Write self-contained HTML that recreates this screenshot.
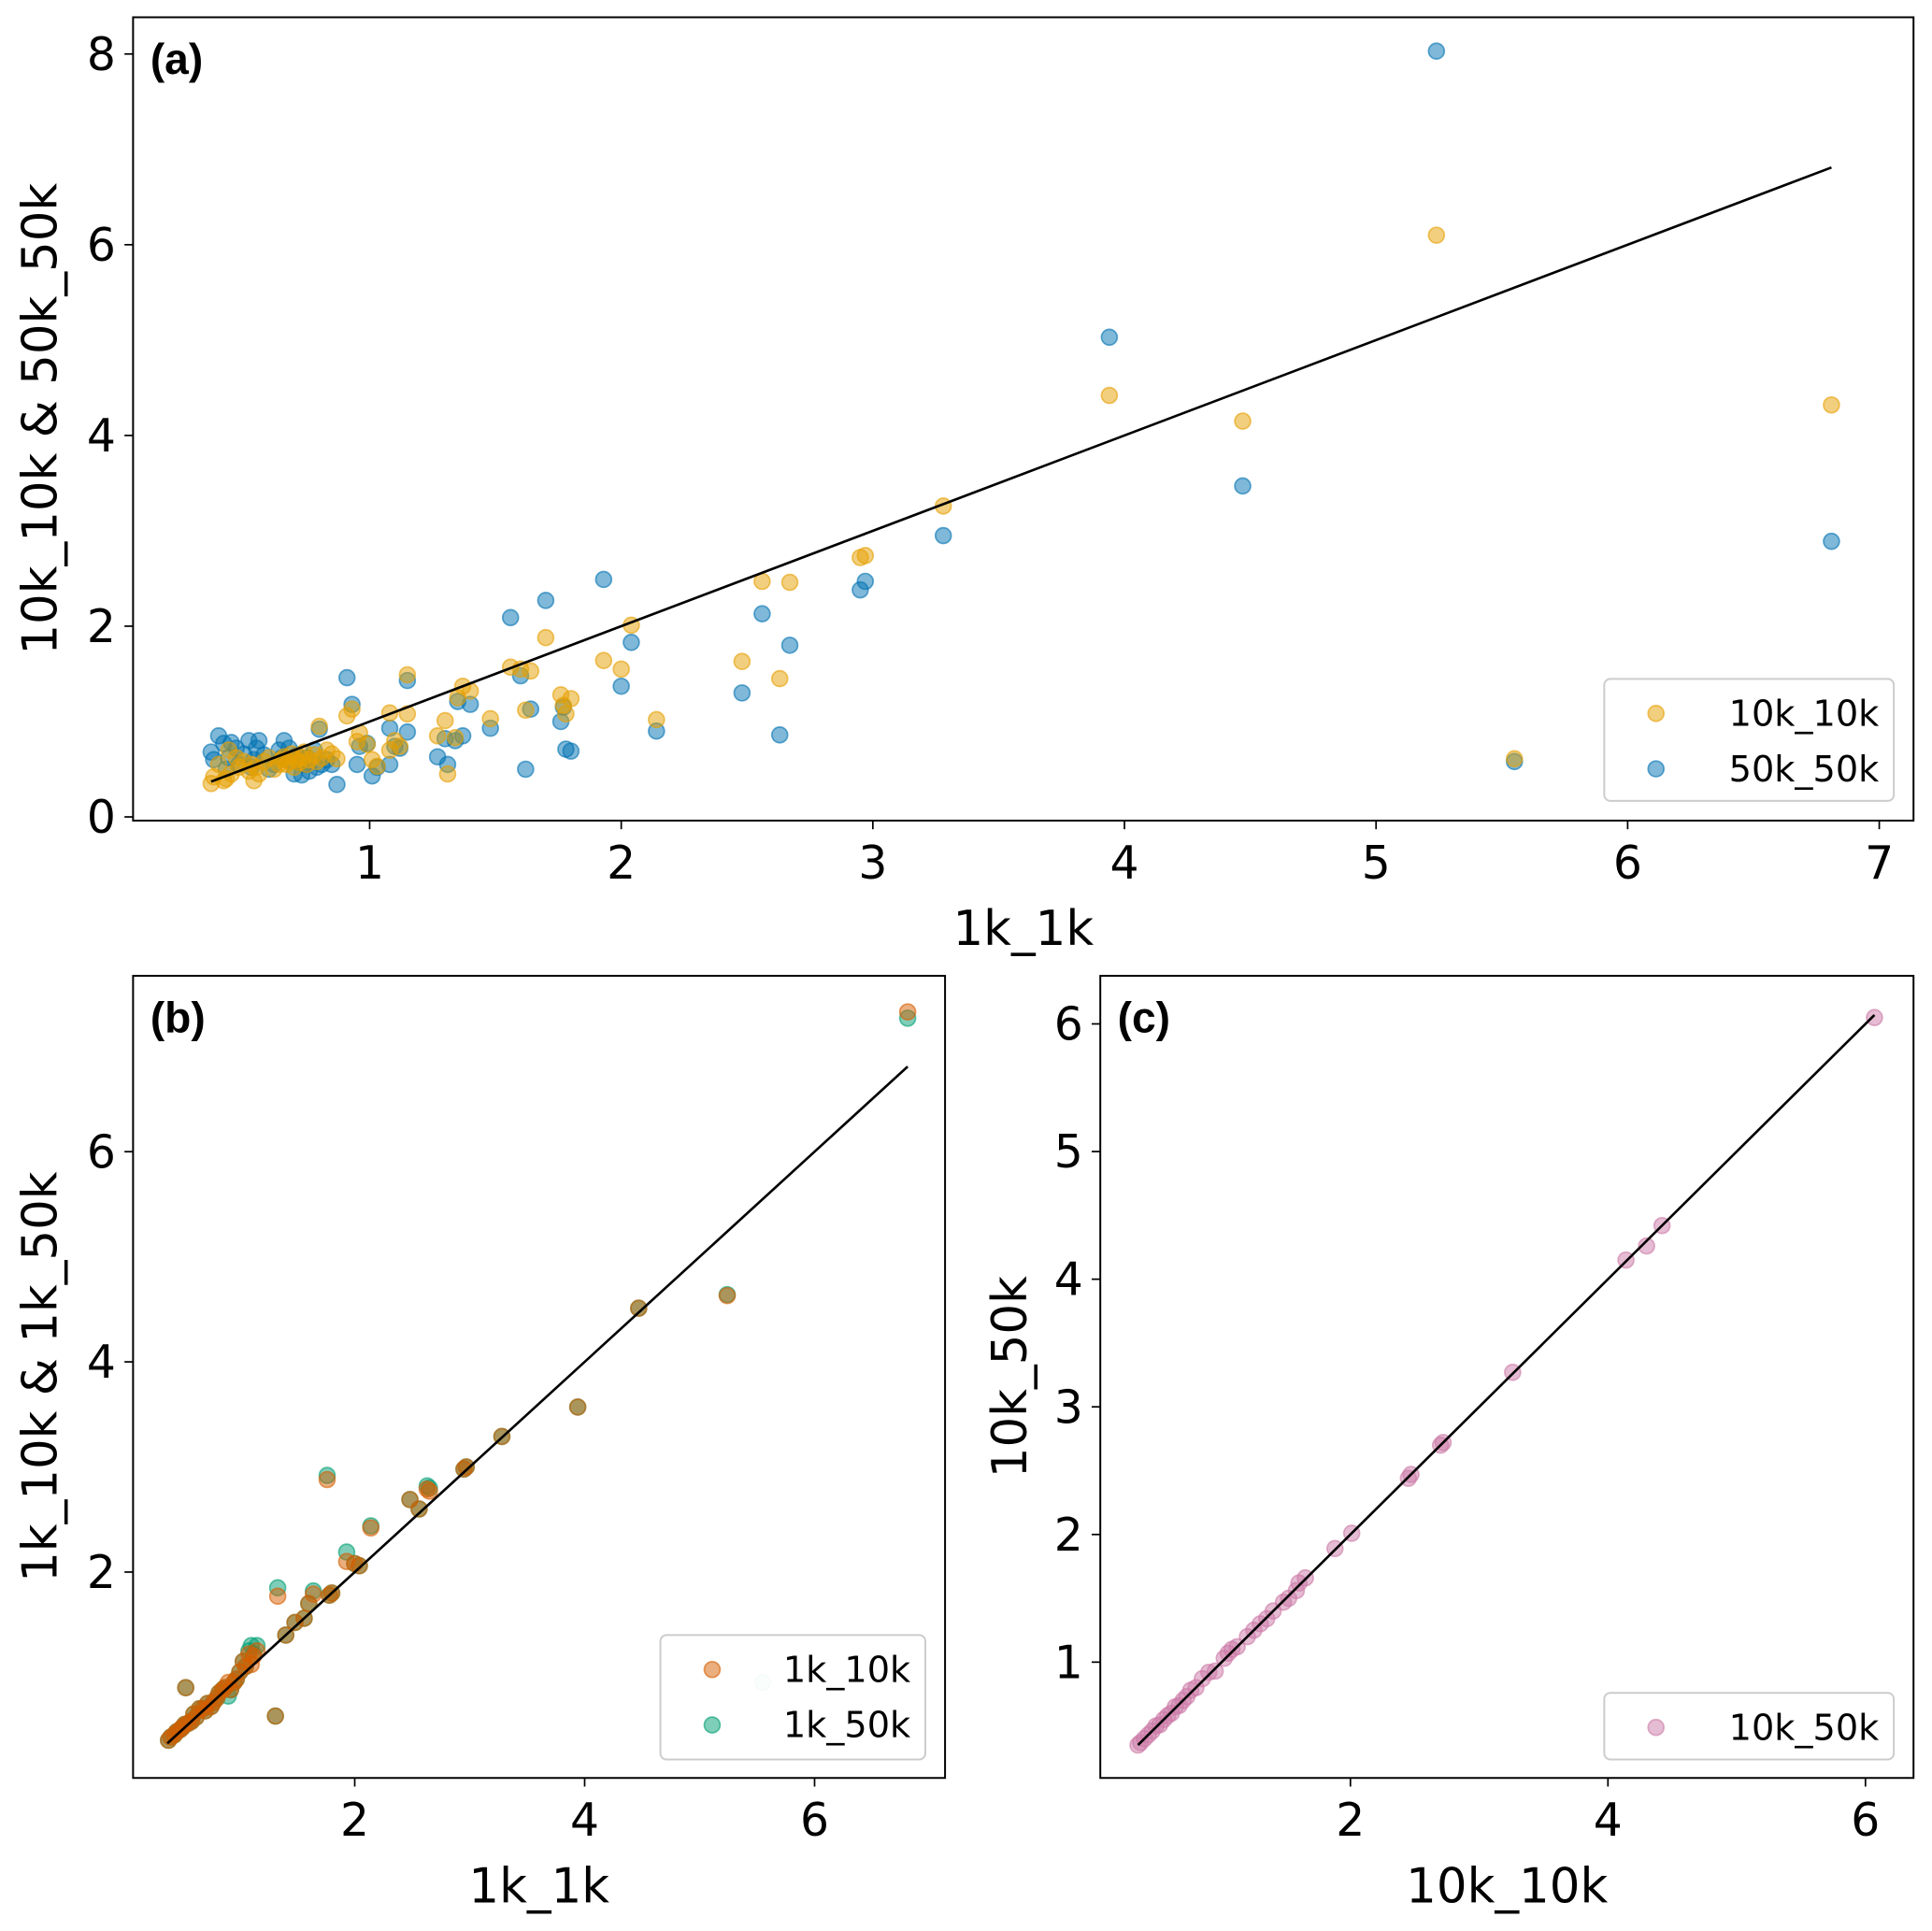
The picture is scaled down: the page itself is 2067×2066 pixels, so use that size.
<!DOCTYPE html>
<html><head><meta charset="utf-8"><style>
html,body{margin:0;padding:0;background:#fff;}
svg{display:block;font-family:"DejaVu Sans","Liberation Sans",sans-serif;}
</style></head><body>
<svg id="fig" width="2067" height="2066" viewBox="0 0 1568 1567.2" xmlns="http://www.w3.org/2000/svg">
<rect width="1568" height="1568" fill="#fff"/>
</svg>
<script>
// ---- Panel (a) data ----
const xA = [6.81,5.55,5.24,4.47,3.94,3.28,2.97,2.95,2.67,2.63,2.56,2.48,2.14,2.04,2.00,1.93,1.80,1.78,1.77,1.76,1.70,1.64,1.62,1.60,1.56,1.48,1.40,1.37,1.35,1.34,1.31,1.30,1.27,1.15,1.15,1.12,1.10,1.08,1.08,1.03,1.01,0.99,0.96,0.95,0.93,0.91,0.87,0.85,
0.83,0.81,0.80,0.79,0.78,0.76,0.75,0.74,0.73,0.72,0.71,0.70,0.69,0.68,0.67,0.66,0.65,0.64,0.62,0.60,0.58,0.56,0.55,0.54,0.53,0.52,0.50,0.48,0.47,0.45,0.44,0.43,0.42,0.40,0.38,0.37];
const y10k = [4.32,0.61,6.10,4.15,4.42,3.26,2.74,2.72,2.46,1.45,2.47,1.63,1.02,2.01,1.55,1.64,1.24,1.08,1.17,1.28,1.88,1.53,1.12,1.55,1.57,1.03,1.32,1.37,1.25,0.83,0.45,1.01,0.85,1.49,1.08,0.74,0.80,1.09,0.70,0.53,0.60,0.76,0.88,0.79,1.13,1.06,0.61,0.66,
0.70,0.62,0.95,0.58,0.65,0.60,0.55,0.68,0.62,0.57,0.60,0.52,0.66,0.58,0.55,0.63,0.60,0.55,0.50,0.62,0.58,0.45,0.52,0.38,0.55,0.48,0.58,0.52,0.62,0.45,0.70,0.40,0.38,0.55,0.42,0.35];
const y50k = [2.89,0.58,8.03,3.47,5.03,2.95,2.47,2.38,1.80,0.86,2.13,1.30,0.90,1.83,1.37,2.49,0.69,0.71,1.15,1.00,2.27,1.13,0.50,1.48,2.09,0.93,1.18,0.85,1.21,0.80,0.55,0.82,0.63,1.43,0.89,0.72,0.74,0.93,0.55,0.52,0.43,0.77,0.74,0.55,1.18,1.46,0.34,0.55,
0.60,0.55,0.92,0.52,0.70,0.48,0.62,0.55,0.44,0.60,0.65,0.45,0.58,0.72,0.60,0.80,0.62,0.70,0.55,0.50,0.65,0.80,0.72,0.60,0.52,0.80,0.66,0.55,0.72,0.78,0.62,0.50,0.77,0.85,0.60,0.68];
// ---- Panel (b) data ----
const xB = [6.81,5.24,4.47,3.94,3.28,2.97,2.95,2.63,2.65,2.56,2.48,2.14,2.04,2.00,1.93,1.76,1.80,1.78,1.64,1.60,1.56,1.48,1.40,1.33,1.31,1.15,1.12,1.10,1.08,1.05,1.03,1.00,0.97,0.95,0.92,0.90,0.87,0.85,0.82,0.80,0.77,0.75,0.72,0.70,0.68,0.65,0.62,0.60,0.58,0.55,0.53,0.52,0.50,0.48,0.45,0.43,0.40,0.38,5.55];
const y1k10k = [7.33,4.63,4.51,3.57,3.29,3.00,2.98,2.79,2.77,2.60,2.69,2.42,2.06,2.08,2.10,2.88,1.80,1.78,1.79,1.70,1.56,1.52,1.40,1.77,0.63,1.25,1.20,1.12,1.22,1.10,1.15,1.05,0.98,0.95,0.88,0.95,0.90,0.88,0.85,0.80,0.76,0.72,0.75,0.68,0.70,0.70,0.62,0.65,0.58,0.56,0.90,0.55,0.52,0.50,0.48,0.45,0.43,0.40,null];
const y1k50k = [7.27,4.64,4.51,3.57,3.29,3.00,2.98,2.82,2.80,2.60,2.69,2.44,2.06,2.08,2.19,2.92,1.80,1.78,1.82,1.70,1.56,1.52,1.40,1.85,0.63,1.30,1.22,1.30,1.25,1.10,1.15,1.05,0.98,0.95,0.88,0.82,0.90,0.88,0.85,0.80,0.76,0.72,0.75,0.68,0.70,0.70,0.62,0.65,0.58,0.56,0.90,0.55,0.52,0.50,0.48,0.45,0.43,0.40,0.95];
// ---- Panel (c) data ----
const xC = [6.07,4.42,4.30,4.14,3.26,2.72,2.70,2.47,2.45,2.01,1.88,1.65,1.60,1.58,1.52,1.48,1.40,1.35,1.30,1.25,1.20,1.12,1.08,1.05,1.02,0.95,0.90,0.85,0.80,0.76,0.73,0.70,0.67,0.64,0.61,0.58,0.55,0.52,0.49,0.46,0.43,0.40,0.37,0.35];
const y10k50k = [6.05,4.42,4.26,4.15,3.27,2.72,2.70,2.47,2.44,2.01,1.89,1.66,1.62,1.56,1.50,1.47,1.40,1.34,1.30,1.25,1.20,1.12,1.10,1.07,1.03,0.93,0.92,0.87,0.80,0.78,0.73,0.70,0.66,0.65,0.60,0.58,0.55,0.51,0.50,0.46,0.43,0.40,0.37,0.35];
const lineA = [0.37,6.81], lineB = [0.37,6.81], lineC = [0.35,6.07];
const ticksA_x = [1,2,3,4,5,6,7], ticksA_y = [0,2,4,6,8];
const ticksB_x = [2,4,6], ticksB_y = [2,4,6];
const ticksC_x = [2,4,6], ticksC_y = [1,2,3,4,5,6];

const NS = "http://www.w3.org/2000/svg";
const svg = document.getElementById('fig');
const R = 6.4;
function mk(tag, attrs, parent){ const e=document.createElementNS(NS,tag); for(const k in attrs) e.setAttribute(k,attrs[k]); (parent||svg).appendChild(e); return e; }

function panel(cfg){
  const g = mk('g',{});
  
  
  const sx = v => cfg.x0 + v*cfg.kx, sy = v => cfg.y0 - v*cfg.ky;
  cfg.tx.forEach(t=>{
    const tk = mk('line',{x1:sx(t),x2:sx(t),y1:cfg.b,y2:cfg.b+7,stroke:'#000','stroke-width':1.3},g);
    
    
    const tl = mk('text',{x:sx(t),y:cfg.b+47,'font-size':37,'text-anchor':'middle'},g);
    tl.textContent = t;
    
    
  });
  cfg.ty.forEach(t=>{
    const tk = mk('line',{x1:cfg.l-7,x2:cfg.l,y1:sy(t),y2:sy(t),stroke:'#000','stroke-width':1.3},g);
    
    
    const tl = mk('text',{x:cfg.l-14,y:sy(t)+13,'font-size':37,'text-anchor':'end'},g);
    tl.textContent = t;
    
    
  });
  const order = cfg.drawOrder || cfg.series.map((_,i)=>i);
  order.forEach(si=>{
    const s = cfg.series[si];
    const sg = mk('g',{},g);
    
    
    cfg.xs.forEach((xv,i)=>{
      const yv = s.ys[i];
      if(yv===null || yv===undefined) return;
      const faint = cfg.faint && cfg.faint(i);
      const c = mk('circle',{cx:sx(xv),cy:sy(yv),r:R,fill:s.color,'fill-opacity':faint?0.12:0.5,stroke:s.color,'stroke-opacity':faint?0.12:0.6,'stroke-width':1.3},sg);
      
      
    });
  });
  const ln = mk('line',{x1:sx(cfg.line[0]),y1:sy(cfg.line[0]),x2:sx(cfg.line[1]),y2:sy(cfg.line[1]),stroke:'#000','stroke-width':2},g);
  
  
  const fr = mk('rect',{x:cfg.l,y:cfg.t,width:cfg.r-cfg.l,height:cfg.b-cfg.t,fill:'none',stroke:'#000','stroke-width':1.5},g);
  
  
  const pl = mk('text',{x:cfg.l+14,y:cfg.t+46,'font-size':35,'font-weight':'bold','font-family':'Liberation Sans, sans-serif'},g);
  pl.textContent = cfg.label;
  
  
  const xl = mk('text',{x:(cfg.l+cfg.r)/2,y:cfg.b+101,'font-size':39,'text-anchor':'middle'},g);
  xl.textContent = cfg.xlabel;
  
  
  const yc = (cfg.t+cfg.b)/2;
  const yl = mk('text',{x:cfg.ylx,y:yc,'font-size':39,'text-anchor':'middle',transform:`rotate(-90 ${cfg.ylx} ${yc})`},g);
  yl.textContent = cfg.ylabel;
  
  
  const L = cfg.legend;
  const lg = mk('g',{},g);
  
  
  mk('rect',{x:L.x,y:L.y,width:L.w,height:L.h,rx:5,fill:'#fff','fill-opacity':0.8,stroke:'#ccc','stroke-width':1.5},lg);
  cfg.series.forEach((s,i)=>{
    const yy = L.y + 28 + i*45;
    const m = mk('circle',{cx:L.x+42,cy:yy,r:R,fill:s.color,'fill-opacity':0.5,stroke:s.color,'stroke-opacity':0.6,'stroke-width':1.3},lg);
    
    
    const tx = mk('text',{x:L.x+L.w-12,y:yy+10,'font-size':29,'text-anchor':'end'},lg);
    tx.textContent = s.label;
    
    
  });
}

panel({name:'panel-a',l:108,r:1553,t:14,b:666,x0:95.8,kx:204.2,y0:663,ky:77.4,tx:ticksA_x,ty:ticksA_y,xs:xA,
  series:[{name:'series-10k-10k',ys:y10k,color:'#E69F00',label:'10k_10k'},{name:'series-50k-50k',ys:y50k,color:'#0072B2',label:'50k_50k'}],
  drawOrder:[1,0],
  line:lineA,label:'(a)',xlabel:'1k_1k',ylabel:'10k_10k & 50k_50k',ylx:46,legend:{x:1302,y:551,w:235,h:99}});
panel({name:'panel-b',l:108,r:767,t:792,b:1443,x0:101.3,kx:93.3,y0:1446.5,ky:85.3,tx:ticksB_x,ty:ticksB_y,xs:xB,
  series:[{name:'series-1k-10k',ys:y1k10k,color:'#D55E00',label:'1k_10k'},{name:'series-1k-50k',ys:y1k50k,color:'#009E73',label:'1k_50k'}],
  drawOrder:[1,0],
  faint:i=>i===xB.length-1,
  line:lineB,label:'(b)',xlabel:'1k_1k',ylabel:'1k_10k & 1k_50k',ylx:46,legend:{x:536,y:1327,w:215,h:101}});
panel({name:'panel-c',l:893,r:1553,t:792,b:1443,x0:887,kx:104.5,y0:1452.6,ky:103.6,tx:ticksC_x,ty:ticksC_y,xs:xC,
  series:[{name:'series-10k-50k',ys:y10k50k,color:'#CC79A7',label:'10k_50k'}],
  line:lineC,label:'(c)',xlabel:'10k_10k',ylabel:'10k_50k',ylx:833,legend:{x:1302,y:1374,w:235,h:54}});
</script>
</body></html>
